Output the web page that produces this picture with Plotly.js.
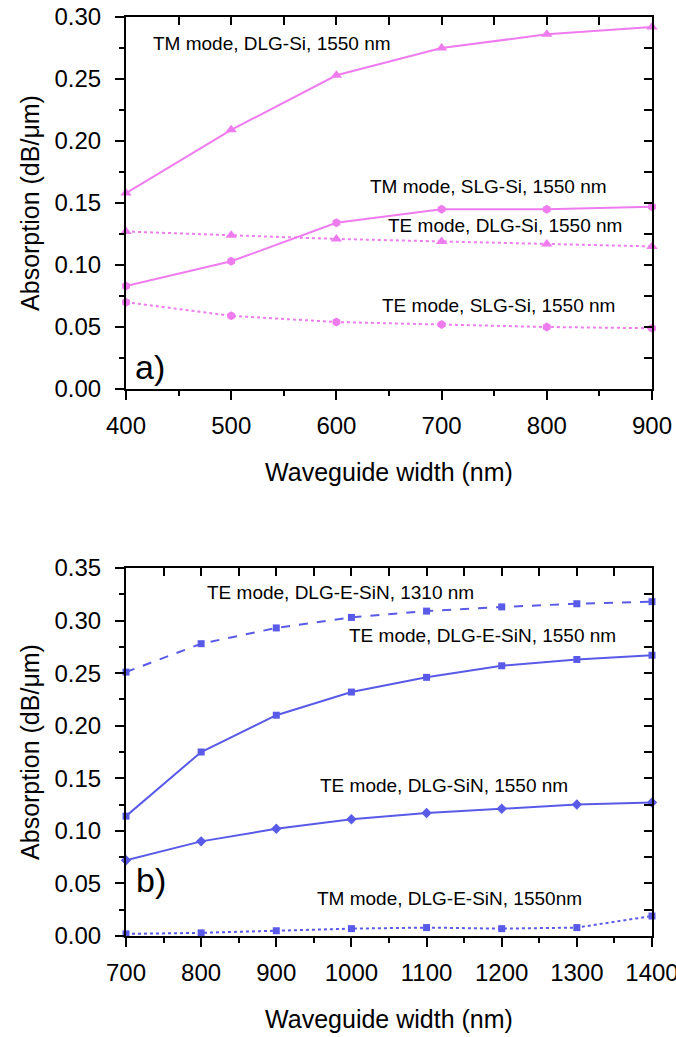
<!DOCTYPE html>
<html>
<head>
<meta charset="utf-8">
<script src="https://cdn.plot.ly/plotly-3.0.1.min.js"></script>
<style>html,body{margin:0;padding:0;background:#fff;}#chart{width:676px;height:1037px;}</style>
</head>
<body>
<div id="chart"></div>
<script>
// ---- Panel a) data ----
const widthA = [400, 500, 600, 700, 800, 900];
const tmDlgSi = [0.158, 0.209, 0.253, 0.275, 0.286, 0.292];
const tmSlgSi = [0.083, 0.103, 0.134, 0.145, 0.145, 0.147];
const teDlgSi = [0.127, 0.124, 0.121, 0.119, 0.117, 0.115];
const teSlgSi = [0.070, 0.059, 0.054, 0.052, 0.050, 0.049];

// ---- Panel b) data ----
const widthB = [700, 800, 900, 1000, 1100, 1200, 1300, 1400];
const teDlgESiN1310 = [0.251, 0.278, 0.293, 0.303, 0.309, 0.313, 0.316, 0.318];
const teDlgESiN1550 = [0.114, 0.175, 0.210, 0.232, 0.246, 0.257, 0.263, 0.267];
const teDlgSiN1550 = [0.072, 0.090, 0.102, 0.111, 0.117, 0.121, 0.125, 0.127];
const tmDlgESiN1550 = [0.002, 0.003, 0.005, 0.007, 0.008, 0.007, 0.008, 0.019];

const seriesLabels = [
  "TM mode, DLG-Si, 1550 nm",
  "TM mode, SLG-Si, 1550 nm",
  "TE mode, DLG-Si, 1550 nm",
  "TE mode, SLG-Si, 1550 nm",
  "TE mode, DLG-E-SiN, 1310 nm",
  "TE mode, DLG-E-SiN, 1550 nm",
  "TE mode, DLG-SiN, 1550 nm",
  "TM mode, DLG-E-SiN, 1550nm"
];

const PINK = "#ef7cef";
const BLUE = "#5a5ae8";
const FONT = "Liberation Sans, Arial, sans-serif";

function tr(x, y, name, color, dash, symbol, size, xa, ya) {
  return {
    x: x, y: y, name: name, type: "scatter", mode: "lines+markers",
    xaxis: xa, yaxis: ya, cliponaxis: false,
    line: {color: color, width: 2, dash: dash},
    marker: {color: color, symbol: symbol, size: size}
  };
}
// helper traces (no visible marks) so the mirrored frame axes get drawn
function frameTrace(x, y, xa, ya) {
  return {x: x, y: y, xaxis: xa, yaxis: ya, type: "scatter", mode: "lines",
          line: {color: "rgba(0,0,0,0)", width: 0}, hoverinfo: "skip", showlegend: false};
}

const data = [
  tr(widthA, tmDlgSi, seriesLabels[0], PINK, "solid", "triangle-up", 10, "x", "y"),
  tr(widthA, tmSlgSi, seriesLabels[1], PINK, "solid", "hexagon", 9, "x", "y"),
  tr(widthA, teDlgSi, seriesLabels[2], PINK, "dot", "triangle-up", 10, "x", "y"),
  tr(widthA, teSlgSi, seriesLabels[3], PINK, "dot", "hexagon", 9, "x", "y"),
  tr(widthB, teDlgESiN1310, seriesLabels[4], BLUE, "dash", "square", 7, "x2", "y2"),
  tr(widthB, teDlgESiN1550, seriesLabels[5], BLUE, "solid", "square", 7, "x2", "y2"),
  tr(widthB, teDlgSiN1550, seriesLabels[6], BLUE, "solid", "diamond", 8, "x2", "y2"),
  tr(widthB, tmDlgESiN1550, seriesLabels[7], BLUE, "dot", "square", 7, "x2", "y2"),
  frameTrace(widthA, tmDlgSi, "x3", "y3"),
  frameTrace(widthB, teDlgESiN1310, "x4", "y4")
];

const W = 676, H = 1037;
const xDom = [126 / W, 652 / W];
const yDomA = [1 - 389 / H, 1 - 17 / H];
const yDomB = [1 - 936 / H, 1 - 568 / H];

const TICKFONT = {family: FONT, size: 24, color: "#000"};
const TITLEFONT = {family: FONT, size: 25, color: "#000"};

function axBase(extra) {
  return Object.assign({
    showline: true, linecolor: "#000", linewidth: 2,
    showgrid: false, zeroline: false,
    ticks: "outside", ticklen: 9, tickwidth: 2, tickcolor: "#000",
    tickfont: TICKFONT, fixedrange: true, ticklabeloverflow: "allow"
  }, extra);
}
function mirrorAx(extra) {
  return Object.assign({
    type: "linear", visible: true,
    showline: true, linecolor: "#000", linewidth: 2,
    showgrid: false, zeroline: false, showticklabels: false,
    ticks: "inside", ticklen: 8, tickwidth: 2, tickcolor: "#000",
    fixedrange: true
  }, extra);
}
const minorOut = d => ({ticks: "outside", ticklen: 5, tickwidth: 2, tickcolor: "#000", dtick: d});

const ann = (x, y, text, xr, yr, size) => ({
  x: x, y: y, xref: xr, yref: yr, text: text, showarrow: false,
  xanchor: "left", yanchor: "middle",
  font: {family: FONT, size: size || 19, color: "#000"}
});

const layout = {
  width: W, height: H,
  margin: {l: 0, r: 0, t: 0, b: 0},
  paper_bgcolor: "#fff", plot_bgcolor: "rgba(0,0,0,0)",
  showlegend: false,
  xaxis: axBase({
    domain: xDom, anchor: "y", range: [400, 900], dtick: 100, tick0: 400,
    minor: minorOut(50), ticklabelstandoff: 5,
    title: {text: "Waveguide width (nm)", font: TITLEFONT, standoff: 26}
  }),
  yaxis: axBase({
    domain: yDomA, anchor: "x", range: [0, 0.30], dtick: 0.05, tickformat: ".2f",
    minor: minorOut(0.025), ticklabelstandoff: 9,
    title: {text: "Absorption (dB/\u03bcm)", font: TITLEFONT, standoff: 8}
  }),
  xaxis3: mirrorAx({
    domain: xDom, anchor: "y3", overlaying: "x", side: "top", range: [400, 900], dtick: 50, tick0: 400
  }),
  yaxis3: mirrorAx({
    domain: yDomA, anchor: "x3", overlaying: "y", side: "right", range: [0, 0.30], dtick: 0.025, tick0: 0
  }),
  xaxis2: axBase({
    domain: xDom, anchor: "y2", range: [700, 1400], dtick: 100, tick0: 700,
    minor: minorOut(50), ticklabelstandoff: 5,
    title: {text: "Waveguide width (nm)", font: TITLEFONT, standoff: 26}
  }),
  yaxis2: axBase({
    domain: yDomB, anchor: "x2", range: [0, 0.35], dtick: 0.05, tickformat: ".2f",
    minor: minorOut(0.025), ticklabelstandoff: 9,
    title: {text: "Absorption (dB/\u03bcm)", font: TITLEFONT, standoff: 8}
  }),
  xaxis4: mirrorAx({
    domain: xDom, anchor: "y4", overlaying: "x2", side: "top", range: [700, 1400], dtick: 50, tick0: 700
  }),
  yaxis4: mirrorAx({
    domain: yDomB, anchor: "x4", overlaying: "y2", side: "right", range: [0, 0.35], dtick: 0.025, tick0: 0
  }),
  annotations: [
    ann(424, 0.279, seriesLabels[0], "x", "y"),
    ann(630, 0.163, seriesLabels[1], "x", "y"),
    ann(647, 0.132, seriesLabels[2], "x", "y"),
    ann(641, 0.067, seriesLabels[3], "x", "y"),
    ann(407, 0.018, "a)", "x", "y", 34),
    ann(805, 0.327, seriesLabels[4], "x2", "y2"),
    ann(994, 0.286, seriesLabels[5], "x2", "y2"),
    ann(955, 0.143, seriesLabels[6], "x2", "y2"),
    ann(951, 0.036, seriesLabels[7], "x2", "y2"),
    ann(710, 0.053, "b)", "x2", "y2", 34)
  ]
};

Plotly.newPlot("chart", data, layout, {displayModeBar: false, staticPlot: true});
</script>
</body>
</html>
